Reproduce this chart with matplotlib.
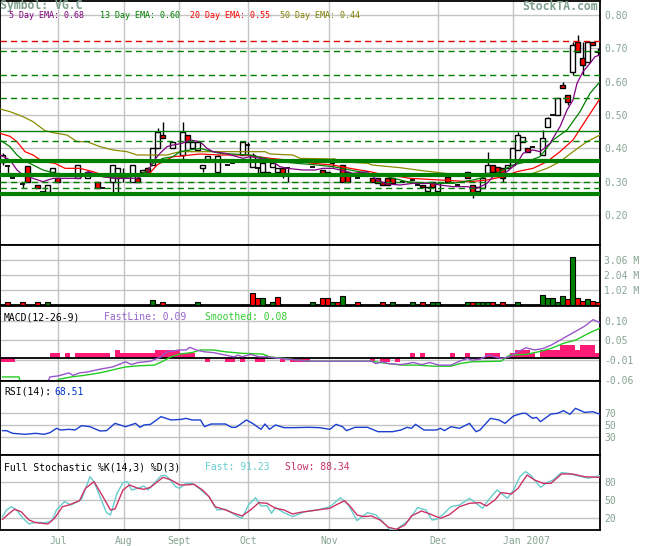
import matplotlib
matplotlib.use("Agg")
import matplotlib.pyplot as plt
import numpy as np

# ---- data (x = trading-bar index 0..119) ----
bar_idx = [0, 1, 2, 4, 5, 7, 8, 9, 10, 11, 15, 17, 19, 20, 22, 23, 24, 26, 27, 28, 29, 30, 31, 32,
           34, 36, 37, 38, 39, 40, 41, 43, 45, 46, 48, 49, 50, 51, 52, 53, 54, 55, 56, 57, 62, 64,
           65, 66, 68, 69, 71, 74, 75, 76, 77, 78, 80, 82, 83, 84, 85, 86, 87, 89, 91, 93, 94, 95,
           96, 97, 98, 99, 100, 101, 102, 103, 104, 105, 106, 108, 109, 110, 111, 112, 113, 114,
           115, 116, 117, 118, 119]
opens = [0.36, 0.348, 0.31, 0.293, 0.347, 0.29, 0.27, 0.27, 0.33, 0.31, 0.31, 0.31, 0.30, 0.28, 0.30,
         0.31, 0.31, 0.30, 0.31, 0.33, 0.34, 0.35, 0.40, 0.44, 0.40, 0.38, 0.44, 0.40, 0.395, 0.34,
         0.367, 0.33, 0.35, 0.355, 0.38, 0.41, 0.345, 0.34, 0.33, 0.33, 0.345, 0.33, 0.34, 0.34,
         0.345, 0.335, 0.33, 0.355, 0.35, 0.33, 0.31, 0.31, 0.31, 0.30, 0.31, 0.31, 0.30, 0.305,
         0.29, 0.29, 0.272, 0.30, 0.272, 0.315, 0.29, 0.33, 0.29, 0.272, 0.28, 0.325, 0.35, 0.345,
         0.34, 0.34, 0.35, 0.395, 0.42, 0.40, 0.405, 0.38, 0.465, 0.50, 0.50, 0.59, 0.56, 0.63,
         0.72, 0.67, 0.66, 0.72, 0.69]
highs = [0.385, 0.348, 0.31, 0.293, 0.347, 0.29, 0.27, 0.29, 0.34, 0.31, 0.35, 0.33, 0.30, 0.28, 0.35,
         0.34, 0.34, 0.35, 0.31, 0.335, 0.345, 0.40, 0.46, 0.48, 0.42, 0.48, 0.44, 0.42, 0.42, 0.35,
         0.377, 0.38, 0.35, 0.355, 0.42, 0.42, 0.385, 0.34, 0.355, 0.33, 0.355, 0.34, 0.34, 0.34,
         0.345, 0.335, 0.33, 0.37, 0.35, 0.33, 0.31, 0.31, 0.31, 0.30, 0.31, 0.31, 0.30, 0.305,
         0.29, 0.29, 0.285, 0.30, 0.295, 0.315, 0.29, 0.33, 0.29, 0.285, 0.31, 0.39, 0.35, 0.345,
         0.34, 0.35, 0.40, 0.45, 0.435, 0.40, 0.405, 0.455, 0.495, 0.50, 0.55, 0.60, 0.56, 0.72,
         0.74, 0.72, 0.72, 0.72, 0.70]
lows = [0.35, 0.32, 0.31, 0.28, 0.30, 0.28, 0.27, 0.265, 0.33, 0.30, 0.31, 0.31, 0.28, 0.28, 0.265,
        0.265, 0.30, 0.30, 0.30, 0.33, 0.33, 0.35, 0.40, 0.43, 0.40, 0.36, 0.42, 0.40, 0.395, 0.33,
        0.367, 0.33, 0.35, 0.355, 0.38, 0.38, 0.345, 0.325, 0.33, 0.325, 0.345, 0.33, 0.31, 0.30,
        0.345, 0.325, 0.325, 0.345, 0.30, 0.30, 0.31, 0.30, 0.295, 0.29, 0.29, 0.295, 0.30, 0.305,
        0.29, 0.285, 0.272, 0.285, 0.272, 0.30, 0.29, 0.31, 0.25, 0.272, 0.28, 0.325, 0.33, 0.33,
        0.30, 0.34, 0.35, 0.395, 0.42, 0.39, 0.405, 0.38, 0.465, 0.50, 0.50, 0.58, 0.53, 0.62,
        0.69, 0.62, 0.66, 0.71, 0.68]
closes = [0.38, 0.348, 0.31, 0.293, 0.30, 0.28, 0.27, 0.29, 0.34, 0.30, 0.35, 0.33, 0.28, 0.28, 0.35,
          0.34, 0.31, 0.35, 0.30, 0.335, 0.33, 0.40, 0.45, 0.43, 0.42, 0.45, 0.42, 0.42, 0.42, 0.35,
          0.377, 0.377, 0.35, 0.355, 0.42, 0.41, 0.38, 0.34, 0.355, 0.325, 0.355, 0.34, 0.325, 0.34,
          0.345, 0.325, 0.325, 0.355, 0.30, 0.30, 0.31, 0.30, 0.295, 0.29, 0.29, 0.295, 0.30, 0.305,
          0.29, 0.285, 0.285, 0.285, 0.295, 0.30, 0.29, 0.31, 0.265, 0.285, 0.31, 0.35, 0.33, 0.33,
          0.31, 0.35, 0.40, 0.44, 0.435, 0.39, 0.405, 0.43, 0.49, 0.50, 0.55, 0.58, 0.54, 0.71,
          0.69, 0.65, 0.72, 0.71, 0.69]

ema5_x = [-0.5, 1.5, 2.9, 4.1, 6.1, 8.1, 10.1, 12.9, 15.5, 17.1, 18.9, 20.1, 22.5, 24.1, 26.9, 28.9,
          30.1, 31.5, 32.9, 34.1, 35.9, 37.5, 39.5, 40.9, 42.1, 44.5, 48.1, 49.5, 51.5, 53.5, 55.5,
          56.9, 60.1, 62.5, 64.1, 66.1, 67.5, 70.1, 72.9, 74.9, 76.9, 79.5, 82.1, 85.5, 87.5, 90.1,
          92.9, 94.9, 96.9, 98.1, 100.9, 102.9, 104.1, 106.1, 107.5, 109.5, 111.5, 112.9, 114.1,
          114.9, 116.1, 117.5, 118.5, 119.5]
ema5_y = [0.38, 0.365, 0.335, 0.32, 0.31, 0.30, 0.31, 0.31, 0.31, 0.33, 0.322, 0.315, 0.31, 0.31,
          0.31, 0.325, 0.36, 0.385, 0.405, 0.41, 0.415, 0.425, 0.42, 0.40, 0.39, 0.385, 0.37, 0.375,
          0.37, 0.365, 0.345, 0.34, 0.335, 0.335, 0.34, 0.34, 0.335, 0.325, 0.33, 0.305, 0.293,
          0.29, 0.295, 0.295, 0.29, 0.285, 0.285, 0.28, 0.295, 0.315, 0.33, 0.355, 0.385, 0.395,
          0.39, 0.415, 0.465, 0.515, 0.545, 0.595, 0.63, 0.655, 0.675, 0.68]
ema13_x = [-0.5, 1.5, 2.9, 4.1, 6.1, 8.1, 10.5, 14.1, 17.5, 20.1, 22.9, 26.1, 28.9, 30.1, 32.1, 34.1,
           35.5, 37.5, 39.5, 41.5, 43.5, 49.5, 55.5, 58.9, 62.9, 66.1, 69.5, 76.9, 80.9, 85.5, 90.1,
           94.1, 98.1, 102.1, 104.9, 107.5, 110.1, 112.9, 115.5, 117.5, 119.5]
ema13_y = [0.425, 0.405, 0.38, 0.365, 0.35, 0.335, 0.325, 0.322, 0.32, 0.315, 0.31, 0.315, 0.33,
           0.355, 0.37, 0.375, 0.39, 0.395, 0.40, 0.392, 0.385, 0.38, 0.36, 0.355, 0.35, 0.345,
           0.335, 0.315, 0.30, 0.295, 0.295, 0.305, 0.32, 0.35, 0.36, 0.375, 0.425, 0.455, 0.51,
           0.565, 0.60]
ema20_x = [-0.5, 1.5, 2.9, 4.5, 6.1, 8.1, 10.5, 12.5, 15.5, 18.1, 20.9, 22.5, 26.1, 28.1, 29.5, 30.9,
           32.1, 34.1, 35.9, 37.5, 39.5, 43.5, 48.1, 51.1, 53.5, 56.9, 62.1, 66.1, 69.5, 73.5, 76.9,
           79.5, 81.5, 87.5, 93.5, 96.9, 100.1, 102.9, 106.1, 108.9, 111.5, 114.1, 116.9, 119.1, 119.5]
ema20_y = [0.445, 0.436, 0.42, 0.39, 0.38, 0.36, 0.355, 0.34, 0.34, 0.33, 0.315, 0.31, 0.32, 0.325,
           0.326, 0.35, 0.36, 0.375, 0.377, 0.38, 0.383, 0.38, 0.38, 0.375, 0.37, 0.365, 0.355, 0.35,
           0.34, 0.33, 0.318, 0.315, 0.31, 0.305, 0.30, 0.305, 0.315, 0.33, 0.34, 0.36, 0.39, 0.425,
           0.49, 0.54, 0.55]
ema50_x = [-0.5, 1.5, 4.1, 6.1, 8.5, 10.1, 12.9, 14.9, 16.9, 19.5, 22.1, 24.9, 25.9, 26.9, 32.9, 34.1,
           35.5, 48.9, 52.5, 53.5, 58.1, 59.5, 66.5, 67.5, 73.1, 73.9, 79.5, 84.5, 88.5, 93.5, 97.5,
           100.9, 103.5, 106.1, 108.9, 111.5, 114.1, 116.9, 119.5]
ema50_y = [0.518, 0.51, 0.495, 0.48, 0.453, 0.447, 0.44, 0.42, 0.42, 0.405, 0.395, 0.39, 0.385, 0.38,
           0.38, 0.385, 0.39, 0.39, 0.39, 0.383, 0.38, 0.37, 0.368, 0.36, 0.355, 0.35, 0.342, 0.332,
           0.325, 0.32, 0.315, 0.316, 0.32, 0.325, 0.34, 0.36, 0.39, 0.42, 0.44]

red_dashed = [0.722]
green_dashed = [0.692, 0.62, 0.55, 0.422, 0.30, 0.28]
green_thin = [0.452]
green_thick = [0.362, 0.32, 0.262]

vol_x = [1, 4, 7, 9, 30, 32, 39, 50, 51, 52, 54, 55, 62, 64, 65, 66, 67, 68, 71, 76, 78, 82, 84, 86,
         87, 93, 94, 95, 96, 97, 98, 100, 103, 108, 109, 110, 111, 112, 113, 114, 115, 116, 117, 118, 119]
vol_m = [0.18, 0.18, 0.18, 0.18, 0.32, 0.18, 0.18, 0.80, 0.46, 0.46, 0.18, 0.52, 0.18, 0.50, 0.46,
         0.18, 0.22, 0.59, 0.22, 0.22, 0.18, 0.18, 0.18, 0.22, 0.18, 0.18, 0.22, 0.18, 0.18, 0.18,
         0.18, 0.18, 0.18, 0.71, 0.50, 0.50, 0.22, 0.64, 0.39, 3.29, 0.50, 0.28, 0.39, 0.28, 0.22]
vol_up = [0, 0, 0, 1, 1, 0, 1, 0, 0, 1, 1, 0, 1, 0, 0, 1, 0, 1, 0, 0, 1, 1, 0, 1, 1, 1, 0, 1, 1, 1,
          0, 0, 1, 1, 1, 1, 1, 1, 0, 1, 0, 0, 1, 0, 0]

hist_x = [0, 1, 2, 10, 11, 13, 15, 16, 17, 18, 19, 20, 21, 23, 24, 25, 26, 27, 28, 29, 30, 31, 32, 33,
          34, 35, 36, 37, 38, 41, 45, 46, 48, 51, 52, 56, 58, 59, 60, 61, 74, 76, 77, 79, 82, 84, 90,
          93, 97, 98, 99, 102, 103, 104, 105, 106, 108, 109, 110, 111, 112, 113, 114, 115, 116, 117,
          118, 119]
hist_v = [-0.011, -0.011, -0.011, 0.012, 0.012, 0.012, 0.012, 0.012, 0.012, 0.012, 0.012, 0.012,
          0.012, 0.021, 0.012, 0.012, 0.012, 0.012, 0.012, 0.012, 0.012, 0.021, 0.021, 0.021, 0.021,
          0.021, 0.012, 0.012, 0.012, -0.011, -0.011, -0.011, -0.011, -0.011, -0.011, -0.011,
          -0.011, -0.011, -0.011, -0.011, -0.011, -0.011, -0.011, -0.011, 0.012, 0.012, 0.012,
          0.012, 0.012, 0.012, 0.012, 0.012, 0.021, 0.021, 0.021, 0.012, 0.021, 0.021, 0.021, 0.021,
          0.034, 0.034, 0.034, 0.021, 0.034, 0.034, 0.034, 0.012]
macd_x = [0, 8.7, 9.5, 11.2, 13.3, 14.1, 15.4, 17.0, 19.5, 22.0, 23.7, 24.6, 25.8, 27.1, 29.6, 31.7,
          32.9, 35.4, 36.7, 37.5, 38.7, 40.4, 42.1, 44.6, 46.3, 47.1, 47.9, 49.6, 51.3, 52.9, 55.5,
          58.0, 61.3, 73.8, 74.7, 75.9, 77.2, 79.7, 82.2, 83.8, 85.5, 87.2, 89.7, 91.4, 93.0, 93.9,
          95.5, 97.2, 99.7, 101.4, 103.1, 104.7, 106.4, 108.1, 109.7, 112.2, 113.9, 116.4, 118.1, 119.5]
macd_v = [-0.09, -0.075, -0.052, -0.049, -0.041, -0.048, -0.041, -0.0385, -0.031, -0.025, -0.016,
          -0.011, -0.0185, -0.013, -0.0094, 0.0025, 0.016, 0.021, 0.021, 0.028, 0.021, 0.016, 0.014,
          0.007, 0.0025, 0.007, 0.0025, 0.009, 0.0025, 0.0025, -0.002, -0.005, -0.0094, -0.0094,
          -0.016, -0.011, -0.016, -0.0185, -0.013, -0.0185, -0.013, -0.020, -0.020, -0.0094, -0.002,
          -0.0067, -0.004, 0.007, -0.002, 0.0025, 0.016, 0.027, 0.021, 0.025, 0.034, 0.053, 0.066,
          0.085, 0.103, 0.095]
signal_x = [0, 3.3, 3.7, 10.4, 11.2, 13.7, 16.2, 19.5, 22.0, 24.6, 27.1, 30.4, 32.1, 33.7, 35.4,
            37.9, 39.6, 42.1, 44.6, 47.9, 52.1, 53.4, 56.3, 61.3, 73.8, 75.5, 79.7, 83.0, 86.3, 89.7,
            91.4, 93.9, 99.7, 101.4, 104.7, 107.2, 109.7, 112.2, 114.7, 117.2, 119.5]
signal_v = [-0.052, -0.052, -0.075, -0.075, -0.0585, -0.052, -0.048, -0.041, -0.033, -0.025, -0.022,
            -0.020, -0.0094, 0.0025, 0.0098, 0.014, 0.021, 0.021, 0.016, 0.012, 0.0098, 0.0025,
            -0.002, -0.0094, -0.0094, -0.013, -0.020, -0.020, -0.023, -0.023, -0.016, -0.011,
            -0.0094, 0.007, 0.009, 0.016, 0.025, 0.039, 0.048, 0.066, 0.080]

rsi_x = [0, 0.8, 2, 4.5, 6.6, 8.3, 9.5, 10.8, 11.6, 13.3, 14.5, 15.8, 17.5, 19.5, 20.8, 22.5, 24.6,
         26.6, 27.5, 28.3, 29.6, 31.7, 33.7, 35.8, 36.7, 37.9, 39.6, 40.4, 41.7, 44.6, 45.8, 46.7,
         48.8, 50.0, 51.7, 52.5, 53.4, 54.6, 56.3, 58.0, 61.3, 63.4, 65.5, 66.7, 68.0, 68.8, 70.5,
         73.0, 75.1, 78.0, 79.7, 80.9, 81.8, 82.6, 84.3, 86.8, 87.6, 88.4, 89.7, 91.4, 93.4, 94.7,
         95.5, 97.6, 99.3, 100.5, 102.2, 103.9, 104.7, 106.0, 106.8, 107.6, 109.7, 111.0, 112.2,
         113.5, 114.6, 116.4, 118.1, 119.5]
rsi_v = [40.4, 40.4, 35.8, 34.1, 35.8, 34.1, 36.9, 44.4, 41.5, 42.7, 41.5, 48.9, 47.2, 39.8, 40.4,
         52.9, 47.2, 52.9, 46.1, 50.1, 51.2, 64.4, 58.7, 59.8, 61.5, 58.7, 58.7, 47.2, 51.8, 51.8,
         46.1, 46.1, 58.7, 52.9, 42.7, 51.8, 42.7, 50.1, 45.5, 45.5, 46.1, 45.5, 42.7, 51.2, 47.2,
         40.4, 46.1, 46.1, 38.6, 38.6, 41.5, 46.1, 44.4, 51.2, 41.5, 41.5, 44.4, 40.4, 47.2, 44.4,
         52.9, 38.6, 41.5, 61.5, 58.7, 52.9, 65.5, 70.1, 70.1, 61.5, 63.2, 55.8, 69.0, 70.1, 74.7,
         68.4, 78.7, 71.8, 72.9, 68.5]

fast_x = [0, 0.8, 1.8, 2.8, 4.1, 5.3, 6.6, 8.7, 9.9, 10.8, 12.4, 13.7, 15.0, 15.8, 17.5, 18.3, 19.5,
          20.8, 21.6, 22.9, 24.1, 25.0, 25.8, 27.1, 28.3, 29.1, 30.0, 31.7, 32.5, 33.3, 34.6, 35.4,
          36.7, 37.9, 38.7, 41.3, 42.9, 44.6, 47.1, 47.9, 49.2, 50.6, 51.7, 52.9, 53.8, 54.6, 55.9,
          58.0, 60.5, 63.0, 65.5, 67.6, 69.2, 70.9, 73.0, 74.7, 77.6, 78.8, 81.3, 83.0, 84.7, 85.9,
          86.8, 88.0, 89.7, 91.4, 93.4, 94.7, 96.0, 97.2, 98.9, 101.0, 102.2, 103.5, 104.6, 105.6,
          107.6, 108.9, 110.1, 111.8, 113.1, 115.2, 117.2, 119.5]
fast_v = [22.8, 33.9, 39.4, 33.9, 20.0, 10.6, 13.3, 12.8, 16.1, 33.9, 47.8, 42.2, 47.8, 51.7, 89.4,
          81.1, 56.1, 29.4, 25.6, 61.7, 79.4, 81.1, 67.2, 70.0, 73.9, 67.2, 75.6, 90.6, 91.7, 86.7,
          72.8, 70.0, 78.3, 78.3, 73.9, 56.1, 33.9, 35.0, 22.8, 20.0, 42.2, 54.4, 40.6, 41.1, 28.3,
          38.3, 31.1, 22.8, 31.1, 33.9, 39.4, 54.4, 42.2, 16.1, 29.4, 25.6, 0.6, 1.7, 17.2, 37.8,
          33.9, 17.2, 18.3, 25.6, 39.4, 42.2, 53.3, 45.0, 36.7, 50.6, 67.2, 53.3, 67.2, 89.4, 97.8,
          92.2, 71.7, 79.4, 83.9, 96.1, 95.0, 90.6, 86.7, 91.2]
slow_x = [0, 1.2, 2.4, 3.7, 5.3, 6.6, 9.1, 10.4, 12.0, 13.3, 15.4, 16.6, 18.3, 19.5, 21.6, 22.5, 24.1,
          25.4, 27.1, 28.3, 29.6, 32.1, 33.7, 35.4, 36.7, 38.3, 40.0, 41.3, 42.5, 44.6, 46.3, 47.9,
          49.6, 51.3, 52.9, 54.6, 56.3, 58.0, 59.6, 63.0, 65.5, 66.7, 68.4, 69.6, 70.9, 72.2, 73.8,
          75.5, 77.2, 78.8, 80.5, 81.8, 83.8, 85.5, 87.6, 89.3, 91.4, 93.4, 95.5, 96.8, 98.5, 99.7,
          101.8, 103.1, 104.9, 106.4, 108.1, 109.7, 111.8, 113.9, 116.4, 118.9, 119.5]
slow_v = [18.3, 27.2, 35.0, 31.1, 17.2, 12.8, 10.6, 20.0, 39.4, 42.2, 49.4, 70.0, 81.1, 64.4, 33.9,
          35.6, 67.2, 75.6, 70.0, 68.3, 71.7, 88.3, 83.9, 75.6, 75.6, 76.7, 67.2, 56.1, 39.4, 33.9,
          28.3, 23.9, 33.9, 46.1, 45.0, 36.7, 33.9, 27.2, 30.0, 33.9, 36.7, 42.2, 49.4, 39.4, 25.6,
          22.8, 23.9, 17.2, 5.0, 1.7, 8.9, 23.9, 32.2, 27.2, 20.0, 25.6, 39.4, 45.0, 46.1, 40.6,
          50.6, 62.8, 60.6, 70.0, 92.2, 83.9, 78.3, 78.3, 93.9, 93.9, 89.4, 88.3, 88.3]

month_pos = [11.1, 24.3, 35.3, 49.1, 65.3, 87.1, 102.1]
month_lab = ["Jul", "Aug", "Sept", "Oct", "Nov", "Dec", "Jan 2007"]

# ---- style ----
MONO = ["DejaVu Sans Mono"]
TICK_C = "#86a494"
GRID_C = "#c4c4c4"
W, H = 655, 546

fig = plt.figure(figsize=(W / 100, H / 100), dpi=100)


def panel(top, bottom):
    ax = fig.add_axes([0, 1 - bottom / H, 600 / W, (bottom - top) / H])
    ax.set_xlim(-0.5, 119.5)
    ax.set_xticks([])
    ax.yaxis.tick_right()
    ax.tick_params(axis="y", length=0, pad=3, labelsize=7, labelcolor=TICK_C)
    for s in ax.spines.values():
        s.set_color("black")
        s.set_linewidth(1.3)
    for m in month_pos:
        ax.axvline(m, color=GRID_C, lw=1, zorder=0)
    return ax


def ftext(x, y, s, color, size=7, weight="normal"):
    fig.text(x / W, 1 - y / H, s, color=color, fontsize=size, family=MONO,
             fontweight=weight, va="center", ha="left")


def set_yt(ax, vals, labels):
    ax.set_yticks(vals)
    ax.set_yticklabels(labels, family=MONO)
    for v in vals:
        ax.axhline(v, color=GRID_C, lw=1, zorder=0)


# price panel
ax = panel(1, 245)
ax.set_ylim(0.11, 0.842)
pv = [0.2, 0.3, 0.4, 0.5, 0.6, 0.7, 0.8]
set_yt(ax, pv, ["%.2f" % v for v in pv])

for i, o, h, l, c in zip(bar_idx, opens, highs, lows, closes):
    ax.vlines(i, l, h, color="black", lw=1, zorder=2)
    if abs(c - o) < 1e-9:
        ax.hlines(o, i - 0.55, i + 0.55, color="black", lw=1.3, zorder=3)
    else:
        ax.bar(i, abs(c - o), bottom=min(o, c), width=1.1,
               color="white" if c > o else "#ff0000", edgecolor="black", lw=1, zorder=3)

ax.plot(ema50_x, ema50_y, color="#8b8b00", lw=0.9, zorder=4)
ax.plot(ema20_x, ema20_y, color="#ff0000", lw=0.9, zorder=4)
ax.plot(ema13_x, ema13_y, color="#008000", lw=0.9, zorder=4)
ax.plot(ema5_x, ema5_y, color="#800080", lw=0.9, zorder=4)

for v in red_dashed:
    ax.axhline(v, color="#e00000", lw=1, ls=(0, (4.5, 3)), zorder=5)
for v in green_dashed:
    ax.axhline(v, color="#008000", lw=1, ls=(0, (4.5, 3)), zorder=5)
for v in green_thin:
    ax.axhline(v, color="#008000", lw=1, zorder=5)
for v in green_thick:
    ax.axhline(v, color="#008000", lw=3, zorder=5)

# volume panel
axv = panel(245, 305)
axv.set_ylim(0, 4.08)
set_yt(axv, [1.02, 2.04, 3.06], ["1.02 M", "2.04 M", "3.06 M"])
axv.bar(vol_x, vol_m, width=1.0,
        color=["#008000" if u else "#ff0000" for u in vol_up],
        edgecolor="black", lw=0.8, zorder=3)

# MACD panel
axm = panel(306, 381)
axm.set_ylim(-0.063, 0.140)
set_yt(axm, [0.1, 0.0467, -0.0067, -0.06], ["0.10", "0.05", "-0.01", "-0.06"])
axm.bar(hist_x, hist_v, width=1.0, color="#ff1a75", lw=0, zorder=2)
axm.axhline(0, color="black", lw=1.3, zorder=3)
axm.plot(signal_x, signal_v, color="#22cc22", lw=1, zorder=4)
axm.plot(macd_x, macd_v, color="#9955cc", lw=1, zorder=4)

# RSI panel
axr = panel(381, 455)
axr.set_ylim(-1.4, 125.6)
set_yt(axr, [30, 50, 70], ["30", "50", "70"])
axr.plot(rsi_x, rsi_v, color="#1a3fd0", lw=1, zorder=3)

# stochastic panel
axs = panel(455, 530)
axs.set_ylim(0.5, 125.5)
set_yt(axs, [20, 50, 80], ["20", "50", "80"])
axs.plot(fast_x, fast_v, color="#66cccc", lw=1, zorder=3)
axs.plot(slow_x, slow_v, color="#cc3366", lw=1, zorder=3)

# month labels; "Jan" of "Jan 2007" sits on its grid line
for m, lab in zip(month_pos, month_lab):
    shift = -7.5 if lab.startswith("Jan") else 0
    axs.annotate(lab, (m, -0.15), xycoords=axs.get_xaxis_transform(),
                 xytext=(shift, 0), textcoords="offset points",
                 ha="left" if shift else "center", va="center",
                 color=TICK_C, fontsize=7, family=MONO, annotation_clip=False)

# header texts
ftext(0, 5, "Symbol: VG.C", "#7f9f8f", size=8.3, weight="bold")
ftext(522, 7, "StockTA.com", "#7f9f8f", size=8.3, weight="bold")
ftext(9, 15, "5 Day EMA: 0.68", "#800080", size=6)
ftext(100, 15, "13 Day EMA: 0.60", "#008000", size=6)
ftext(190, 15, "20 Day EMA: 0.55", "#ff0000", size=6)
ftext(280, 15, "50 Day EMA: 0.44", "#808000", size=6)

ftext(4, 317, "MACD(12-26-9)", "black")
ftext(104, 317, "FastLine: 0.09", "#9966cc")
ftext(205, 317, "Smoothed: 0.08", "#33cc33")
ftext(4, 392, "RSI(14):", "black")
ftext(54, 392, "68.51", "#0033cc")
ftext(4, 467, "Full Stochastic %K(14,3) %D(3)", "black")
ftext(205, 467, "Fast: 91.23", "#66cccc")
ftext(285, 467, "Slow: 88.34", "#cc3366")

fig.savefig("out.png", dpi=100)
